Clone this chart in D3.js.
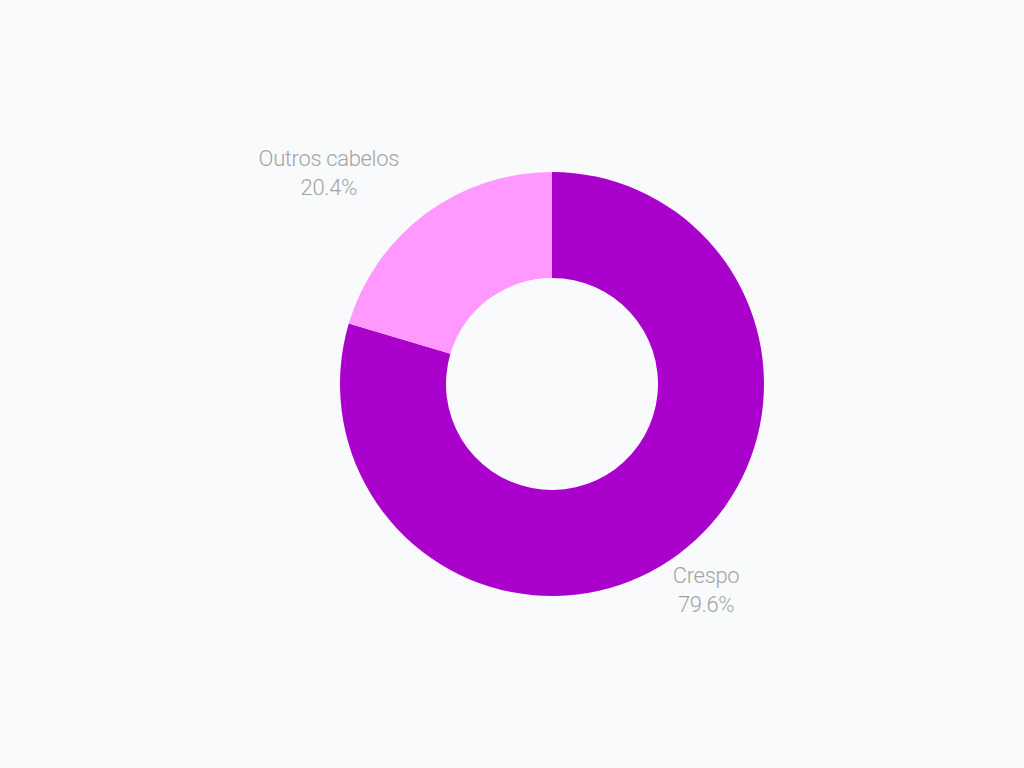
<!DOCTYPE html>
<html><head><meta charset="utf-8">
<script src="https://cdn.jsdelivr.net/npm/d3@7"></script>
<style>html,body{margin:0;padding:0;background:#f9fafc;}svg{display:block;}</style>
</head><body>
<svg id="c" width="1024" height="768"></svg>
<script>
const categories = ["Crespo", "Outros cabelos"];
const values = [79.6, 20.4];
const colors = ["#aa00cc", "#ff99ff"];

const svg = d3.select("#c");
const cx = 552, cy = 384, outerR = 212, innerR = 106, labelR = 256;
const g = svg.append("g").attr("transform", `translate(${cx},${cy})`);
const data = categories.map((c, i) => ({name: c, value: values[i], color: colors[i]}));
const pie = d3.pie().value(d => d.value).sort(null);
const arc = d3.arc().innerRadius(innerR).outerRadius(outerR);
const arcs = pie(data);
g.selectAll("path").data(arcs).join("path").attr("d", arc).attr("fill", d => d.data.color);

const lab = d3.arc().innerRadius(labelR).outerRadius(labelR);
arcs.forEach(d => {
  const [x, y] = lab.centroid(d);
  const mid = (d.startAngle + d.endAngle) / 2;
  const t = g.append("text").attr("text-anchor", "middle")
    .style("font-family", "Roboto, sans-serif").style("font-weight", 300)
    .style("font-size", "22px").style("letter-spacing", "-0.35px").attr("fill", "#a3a3a3");
  t.append("tspan").attr("x", 0).attr("y", 0).text(d.data.name);
  t.append("tspan").attr("x", 0).attr("y", 29).text(d.data.value.toFixed(1) + "%");
  const w = t.node().getBBox().width;
  const ox = mid > Math.PI ? x - w / 2 : x + 1;
  const oy = y < 0 ? y - 13 : y - 6;
  t.attr("transform", `translate(${ox},${oy})`);
});
</script>
</body></html>
